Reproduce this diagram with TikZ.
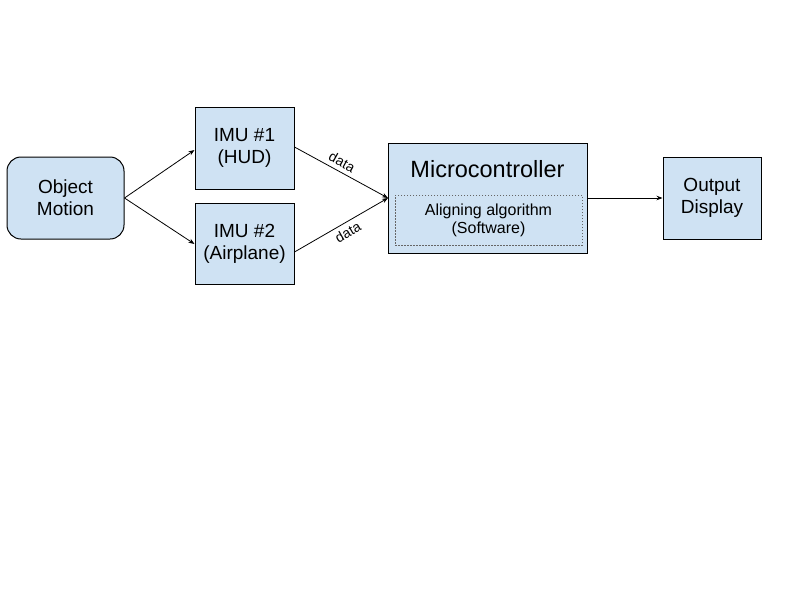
\documentclass[tikz,border=0pt]{standalone}
\usepackage{fontspec}
\setmainfont{Liberation Sans}
\usetikzlibrary{arrows.meta}
\definecolor{boxfill}{HTML}{CFE2F3}
\begin{document}
\begin{tikzpicture}[x=1pt,y=-1pt,
  blk/.style={draw=black,fill=boxfill,line width=1pt,inner sep=0pt,align=center,font=\fontsize{19}{22}\selectfont},
  conn/.style={line width=0.8pt,-{Stealth[length=6pt,width=4.5pt]}},
  lbl/.style={font=\fontsize{14}{16}\selectfont,inner sep=4pt}]
\useasboundingbox (0,0) rectangle (800,600);
\node[blk,rounded corners=14pt,minimum width=117pt,minimum height=82pt] (obj) at (65.5,198) {Object\\Motion};
\node[blk,minimum width=99pt,minimum height=82pt] (imu1) at (244.5,148) {IMU \#1\\(HUD)};
\node[blk,minimum width=99pt,minimum height=81pt] (imu2) at (244.5,243.5) {IMU \#2\\(Airplane)};
\node[blk,minimum width=199pt,minimum height=110pt] (mc) at (487.5,198) {};
\node[font=\fontsize{23.5}{26}\selectfont] (mct) at (487.5,169) {Microcontroller};
\node[draw=gray!80!black,dash pattern=on 1.5pt off 1.5pt,line width=0.6pt,minimum width=187pt,minimum height=50pt,inner sep=0pt,align=center,font=\fontsize{16}{18}\selectfont] (alg) at (488.5,220) {Aligning algorithm\\(Software)};
\node[blk,minimum width=98pt,minimum height=82pt] (out) at (712,198) {Output\\Display};
\coordinate (mcin) at (388,198);
\draw[conn] (obj.east) -- (imu1.west |- 0,150);
\draw[conn] (obj.east) -- (imu2.west |- 0,244);
\draw[conn] (imu1.east |- 0,147) -- node[lbl,sloped,above,pos=0.46] {data} (mcin);
\draw[conn] (imu2.east |- 0,252) -- node[lbl,sloped,below,pos=0.52] {data} (mcin);
\draw[conn] (mc.east) -- (out.west);
\end{tikzpicture}
\end{document}
